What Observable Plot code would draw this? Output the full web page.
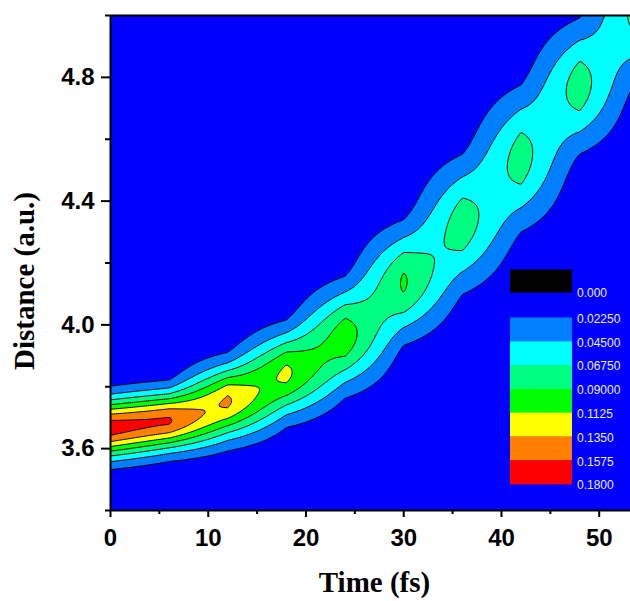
<!DOCTYPE html>
<html>
<head>
<meta charset="utf-8">
<script src="https://cdn.jsdelivr.net/npm/d3@7"></script>
<script src="https://cdn.jsdelivr.net/npm/@observablehq/plot@0.6"></script>
<style>
  body { margin: 0; background: #fff; }
  #wrap { position: relative; width: 630px; height: 601px; overflow: hidden; }
  #wrap svg { display: block; }
</style>
</head>
<body>
<div id="wrap"></div>
<script>
// ---- data: one wave-packet profile per time column ----
const times   = [0, 6, 12, 18, 24, 30, 36, 42, 48, 54];               // fs
const centers = [3.667, 3.690, 3.752, 3.842, 3.960, 4.137, 4.325, 4.538, 4.772, 5.020]; // a.u.
const peaks   = [0.168, 0.160, 0.139, 0.118, 0.1045, 0.0935, 0.081, 0.079, 0.080, 0.079];
const widths  = [0.095, 0.094, 0.118, 0.135, 0.159, 0.170, 0.200, 0.212, 0.195, 0.200];

// contour levels and their colours
const levels = [0.0225, 0.045, 0.0675, 0.09, 0.1125, 0.135, 0.1575];
const levelColors = ["#0080FF", "#00FFFF", "#00FF80", "#00FF00", "#FFFF00", "#FF8000", "#FF0000"];
const backgroundColor = "#0000FF";
const legendLabels = ["0.000", "0.02250", "0.04500", "0.06750", "0.09000", "0.1125", "0.1350", "0.1575", "0.1800"];

// axes
const xDomain = [0, 53.2];
const yDomain = [3.4, 5.0];
const xTicks = [0, 10, 20, 30, 40, 50];
const xMinor = [5, 15, 25, 35, 45];
const yTicks = [3.6, 4.0, 4.4, 4.8];
const yMinor = [3.4, 3.8, 4.2, 4.6, 5.0];
const xTitle = "Time (fs)";
const yTitle = "Distance (a.u.)";

// profile of a time column, and the field between columns (linear in time)
function profile(k, d) {
  const z = (d - centers[k]) / widths[k];
  return peaks[k] * Math.exp(-z * z);
}
function density(t, d) {
  const step = times[1] - times[0];
  let k = Math.floor((t - times[0]) / step);
  k = Math.max(0, Math.min(times.length - 2, k));
  let a = (t - times[k]) / step;
  a = Math.max(0, Math.min(1, a));
  return (1 - a) * profile(k, d) + a * profile(k + 1, d);
}

const sans = "'Liberation Sans', Arial, sans-serif";
const serif = "'Liberation Serif', 'Times New Roman', serif";

const plot = Plot.plot({
  width: 630,
  height: 601,
  marginLeft: 110,
  marginRight: 0,
  marginTop: 15,
  marginBottom: 91,
  x: {domain: xDomain, label: null},
  y: {domain: yDomain, label: null},
  color: {type: "ordinal", domain: levels, range: levelColors},
  style: {fontFamily: sans, background: "white", color: "black"},
  marks: [
    Plot.frame({fill: backgroundColor, stroke: null}),
    Plot.contour({
      fill: density,
      x1: -1, x2: 56, y1: 3.3, y2: 5.15,
      thresholds: levels,
      stroke: "black",
      strokeWidth: 1,
      clip: true
    }),
    Plot.ruleX([xDomain[0]], {stroke: "black", strokeWidth: 2}),
    Plot.ruleY([yDomain[0]], {stroke: "black", strokeWidth: 2.2}),
    Plot.ruleY([yDomain[1]], {stroke: "black", strokeWidth: 2}),
    Plot.axisX({ticks: xTicks, tickSize: 7, tickPadding: 11, strokeWidth: 2, fontSize: 24, fontWeight: "bold", fontFamily: sans, label: null}),
    Plot.axisX({ticks: xMinor, tickSize: 4, strokeWidth: 2, tickFormat: () => "", label: null}),
    Plot.axisY({ticks: yTicks, tickSize: 9, tickPadding: 7, strokeWidth: 2, fontSize: 24, fontWeight: "bold", fontFamily: sans, tickFormat: d3.format(".1f"), label: null}),
    Plot.axisY({ticks: yMinor, tickSize: 5, strokeWidth: 2, tickFormat: () => "", label: null}),
    Plot.text([xTitle], {frameAnchor: "bottom", textAnchor: "middle", dx: 4, dy: 81, fontSize: 29, fontWeight: "bold", fontFamily: serif, fill: "black"}),
    Plot.text([yTitle], {frameAnchor: "left", textAnchor: "middle", rotate: -90, dx: -86, dy: 18, fontSize: 29, fontWeight: "bold", fontFamily: serif, fill: "black"})
  ]
});

const wrap = document.getElementById("wrap");
wrap.appendChild(plot);

// legend drawn inside the plot area
const legend = d3.create("svg")
  .attr("width", 630).attr("height", 601)
  .style("position", "absolute").style("left", "0px").style("top", "0px")
  .style("pointer-events", "none");
const boxX = 510, boxW = 62, boxH = 23.8, firstBoxTop = 317.5;
legend.append("rect").attr("x", boxX).attr("y", 269.5).attr("width", boxW).attr("height", 23).attr("fill", "black");
legend.selectAll("rect.lv").data(levelColors).join("rect")
  .attr("class", "lv")
  .attr("x", boxX).attr("y", (d, i) => firstBoxTop + i * boxH)
  .attr("width", boxW).attr("height", boxH + 0.3)
  .attr("fill", d => d);
legend.selectAll("text").data(legendLabels).join("text")
  .attr("x", 577)
  .attr("y", (d, i) => i === 0 ? 293 : firstBoxTop + (i - 1) * boxH + 1)
  .attr("dy", "0.35em")
  .attr("fill", "#ECECFF")
  .attr("font-family", sans)
  .attr("font-size", 12)
  .text(d => d);
wrap.appendChild(legend.node());
</script>
</body>
</html>
